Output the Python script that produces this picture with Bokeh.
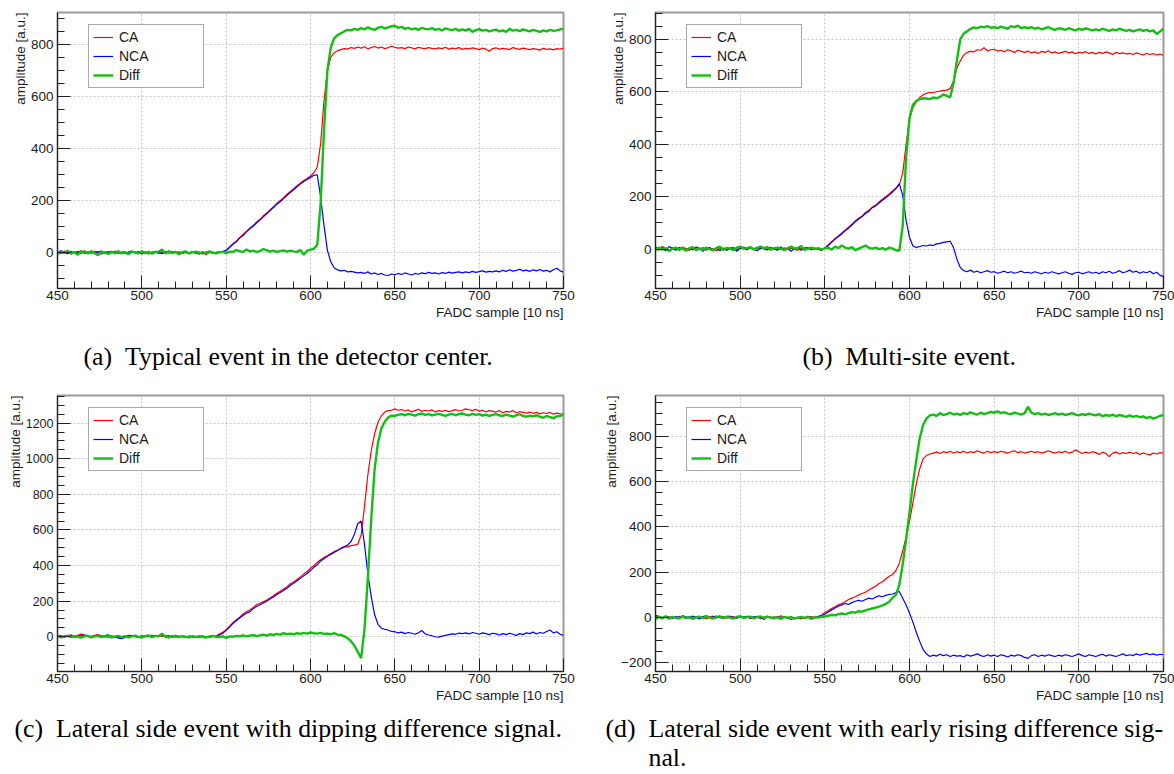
from bokeh.plotting import figure
from bokeh.layouts import column, row
from bokeh.models import SingleIntervalTicker, Range1d, Title, Label
from bokeh.embed import file_html
from bokeh.resources import INLINE

# FADC sample index (every second sample shown)
sample = list(range(450, 751, 2))

# ---------------- (a) typical event in the detector center ----------------
ca_a = [
    3, -4, 6, 2, -5, 4, 1, -3, 7, 0,
    -2, 5, 3, -6, 2, 4, -1, 6, -3, 2,
    5, -4, 1, 3, -2, 6, 0, -5, 3, 2,
    -3, 4, 1, -2, 5, 0, 3, -4, 2, -1,
    4, -2, -6, 3, -8, 1, 2, -3, 0, 2,
    10, 22, 35, 44, 58, 70, 82, 94, 105, 118,
    128, 142, 152, 165, 176, 190, 200, 212, 224, 236,
    246, 258, 268, 278, 286, 296, 308, 330, 419, 585,
    700, 752, 770, 778, 782, 786, 784, 790, 787, 792,
    788, 793, 785, 790, 794, 788, 792, 786, 790, 795,
    791, 788, 790, 786, 792, 789, 785, 791, 788, 786,
    790, 787, 785, 789, 786, 791, 784, 788, 786, 790,
    783, 787, 785, 789, 786, 782, 788, 784, 776, 786,
    789, 784, 787, 785, 782, 790, 786, 783, 788, 785,
    782, 786, 784, 780, 787, 783, 785, 781, 786, 784,
    788]
nca_a = [
    -2, 8, 1, -4, 5, -1, 3, 6, -3, 2,
    4, -3, 2, 6, -2, 1, 5, -4, 3, 0,
    -3, 2, 6, -1, 4, -5, 2, 3, -2, 5,
    1, -4, 3, 5, -2, 2, -3, 4, 0, -2,
    2, -1, 3, -5, 2, 4, -2, 1, 3, 5,
    8, 20, 32, 42, 56, 66, 80, 92, 102, 114,
    126, 138, 150, 162, 174, 186, 196, 208, 220, 232,
    242, 254, 264, 274, 282, 290, 298, 300, 215, 105,
    10, -35, -58, -66, -70, -68, -74, -72, -75, -78,
    -76, -80, -74, -82, -78, -84, -80, -86, -88, -82,
    -85, -80, -84, -78, -82, -86, -80, -83, -78, -81,
    -76, -80, -78, -82, -77, -80, -75, -79, -76, -74,
    -78, -74, -77, -72, -76, -73, -70, -75, -72, -74,
    -70, -74, -68, -72, -66, -71, -68, -64, -70, -67,
    -72, -66, -70, -65, -71, -68, -74, -66, -60, -70,
    -75]
diff_a = [
    -6, 4, -2, 8, -4, 2, -8, 5, 3, -3,
    6, -2, -10, 4, 1, -5, 3, -2, 6, -3,
    2, -6, 4, 1, -3, 5, -2, 3, -4, 2,
    4, 12, -3, 6, -2, 3, -6, 2, 5, -3,
    1, 4, -3, 2, -2, 5, 0, -3, 2, 3,
    -2, 4, 3, 10, 6, 2, 12, 5, 8, 3,
    6, 14, 10, 4, 8, 3, 6, 9, 4, 8,
    5, 3, 10, -8, 8, 12, 15, 30, 190, 470,
    700, 790, 825, 838, 845, 852, 858, 856, 862, 858,
    865, 860, 868, 862, 858, 866, 870, 864, 868, 872,
    874, 866, 870, 862, 866, 860, 864, 858, 866, 862,
    860, 865, 858, 862, 856, 864, 860, 857, 862, 855,
    860, 855, 862, 850, 857, 861, 855, 858, 852, 856,
    859, 852, 856, 850, 862, 855, 858, 853, 860, 856,
    852, 858, 854, 850, 856, 852, 858, 854, 856, 860,
    862]

# ---------------- (b) multi-site event ----------------
ca_b = [
    6, -4, 10, 2, -6, 5, 0, -3, 8, 2,
    -5, 4, 1, -2, 6, -4, 3, 0, -6, 4,
    2, -3, 5, 1, -2, 4, 8, 3, 6, 2,
    5, 2, 7, 0, -3, 4, 2, -2, 5, 1,
    3, -2, -4, 2, 4, 5, 2, 3, 0, -6,
    5, 16, 28, 40, 50, 62, 72, 84, 95, 108,
    118, 126, 140, 148, 160, 168, 180, 190, 200, 210,
    222, 232, 245, 290, 400, 495, 540, 560, 578, 588,
    594, 597, 596, 600, 602, 605, 606, 612, 640, 690,
    718, 740, 750, 754, 752, 760, 758, 768, 756, 760,
    762, 755, 758, 752, 760, 756, 750, 758, 754, 750,
    755, 748, 752, 746, 754, 750, 756, 748, 752, 746,
    750, 754, 748, 752, 745, 750, 748, 753, 746, 750,
    744, 750, 746, 752, 748, 742, 750, 745, 748, 744,
    746, 742, 748, 744, 740, 746, 742, 745, 740, 744,
    738]
nca_b = [
    8, -2, 4, -6, 10, 3, -4, 6, 0, -5,
    5, -3, 8, 2, -8, 4, 6, -2, 3, -6,
    4, -4, 2, 6, -8, 3, 5, -2, 7, 0,
    -6, 4, 2, -3, 6, 0, -4, 8, -2, 3,
    -8, 2, 5, -4, 3, 6, -2, 4, 0, -3,
    4, 14, 26, 38, 48, 58, 70, 80, 92, 104,
    115, 124, 136, 144, 158, 165, 176, 186, 196, 206,
    218, 232, 250, 205, 110, 45, 12, 6, 10, 14,
    12, 16, 14, 20, 22, 26, 28, 30, 6, -38,
    -70, -82, -86, -80, -88, -84, -90, -86, -82, -88,
    -86, -92, -88, -84, -90, -86, -92, -88, -84, -90,
    -88, -92, -86, -90, -94, -88, -92, -86, -90, -94,
    -90, -86, -92, -96, -90, -88, -94, -90, -86, -92,
    -88, -94, -86, -90, -84, -92, -88, -82, -90, -86,
    -80, -88, -84, -92, -86, -90, -84, -94, -88, -100,
    -104]
diff_b = [
    -4, 6, -2, 4, -8, 2, 6, -3, 5, -6,
    2, 8, -4, 3, -2, 6, 0, -5, 4, 10,
    -3, 5, 2, -4, 6, 10, 2, 4, 8, -2,
    5, 10, 3, 8, -2, 4, 6, 2, -4, 3,
    10, 2, 4, 12, -3, 2, 6, 0, 4, -2,
    3, 6, -2, 10, 4, 14, 6, 2, 8, -4,
    2, 8, 14, 5, 2, 6, 0, 4, -2, 6,
    2, -4, -6, 90, 350, 500, 550, 565, 572, 575,
    574, 572, 578, 575, 580, 590, 584, 578, 632, 720,
    800, 822, 830, 840, 845, 842, 848, 845, 850, 844,
    846, 842, 848, 844, 840, 850, 846, 852, 842, 846,
    842, 846, 840, 844, 838, 842, 846, 840, 836, 842,
    840, 836, 842, 838, 834, 840, 836, 842, 838, 834,
    838, 834, 840, 836, 832, 838, 834, 840, 836, 832,
    836, 830, 834, 838, 832, 836, 830, 834, 820, 830,
    840]

# ---------------- (c) lateral side event, dipping difference ----------------
ca_c = [
    5, 2, -3, 6, 10, 4, 8, 15, 10, 4,
    2, 8, 12, 5, -2, 6, 3, 0, -5, -8,
    2, 8, 5, 0, -3, 2, 4, 0, 6, 3,
    8, 2, 5, 0, 3, -2, 4, 1, -3, 2,
    -2, -4, 0, 3, -2, 2, 0, 4, 15, 25,
    40, 58, 80, 95, 110, 128, 140, 150, 165, 180,
    188, 196, 206, 218, 230, 244, 256, 268, 280, 298,
    308, 322, 336, 352, 366, 385, 400, 418, 432, 446,
    455, 468, 478, 485, 498, 506, 505, 512, 515, 520,
    570, 730, 910, 1045, 1140, 1205, 1240, 1262, 1270, 1272,
    1280, 1272, 1276, 1268, 1274, 1262, 1270, 1278, 1266, 1272,
    1268, 1274, 1262, 1270, 1266, 1272, 1264, 1270, 1276, 1268,
    1272, 1280, 1275, 1270, 1278, 1266, 1272, 1262, 1270, 1266,
    1262, 1270, 1258, 1266, 1262, 1270, 1258, 1264, 1260, 1256,
    1262, 1255, 1260, 1252, 1258, 1254, 1260, 1250, 1256, 1252,
    1250]
nca_c = [
    2, 6, 0, 4, 8, -2, 3, 6, 10, 2,
    -4, 5, 8, 2, 6, -2, 4, 0, -6, -10,
    -4, 4, 8, 2, -2, 5, 0, 3, 8, 2,
    5, 10, 2, 6, -2, 8, 0, 3, -2, 4,
    0, 2, -3, 4, 0, -2, 3, 0, 10, 20,
    36, 55, 75, 90, 105, 120, 132, 140, 158, 170,
    180, 190, 200, 212, 224, 236, 248, 260, 272, 288,
    300, 315, 328, 342, 355, 372, 390, 405, 425, 438,
    452, 462, 474, 484, 494, 505, 515, 535, 575, 635,
    650, 520, 353, 225, 125, 70, 48, 42, 38, 30,
    28, 22, 26, 18, 24, 20, 14, 22, 35, 16,
    10, 6, 0, -2, 4, 8, 12, 16, 14, 20,
    18, 22, 16, 24, 20, 14, 22, 18, 12, 20,
    16, 10, 18, 12, 20, 14, 8, 18, 12, 22,
    18, 26, 16, 24, 20, 30, 38, 22, 28, 14,
    8]
diff_c = [
    3, -4, 2, 6, -2, 4, 0, -5, 3, 6,
    -3, 2, 5, -2, 4, 10, -4, 2, 5, -2,
    4, -3, 2, 6, 0, -4, 3, 8, -2, 5,
    2, 18, 0, -4, 5, 2, -2, 4, 0, -3,
    4, -2, 3, 0, -4, 2, 5, 0, -2, 3,
    -6, 2, 0, 5, 3, 8, 2, 6, 10, 4,
    8, 12, 6, 14, 10, 16, 12, 20, 15, 18,
    14, 20, 16, 22, 18, 24, 20, 18, 22, 16,
    18, 14, 20, 12, 10, 4, -8, -25, -50, -85,
    -120, 40, 330, 660, 940, 1090, 1170, 1208, 1232, 1242,
    1240, 1246, 1250, 1244, 1252, 1248, 1242, 1250, 1254, 1246,
    1250, 1244, 1248, 1252, 1246, 1240, 1248, 1252, 1244, 1250,
    1254, 1248, 1244, 1252, 1246, 1250, 1242, 1248, 1240, 1246,
    1250, 1244, 1240, 1248, 1242, 1236, 1244, 1250, 1240, 1236,
    1242, 1238, 1244, 1236, 1230, 1240, 1234, 1228, 1238, 1240,
    1246]

# ---------------- (d) lateral side event, early rising difference ----------------
ca_d = [
    8, 2, -6, 4, 0, 6, -3, 5, 2, -4,
    3, 6, -2, 4, 0, -5, 3, 6, -2, 2,
    5, -3, 2, 4, -2, 6, 0, 3, -4, 2,
    4, -5, 2, 6, 0, 3, -2, 8, 2, -3,
    -8, -4, 0, -6, 2, -2, 4, 0, 3, 10,
    22, 30, 40, 48, 56, 62, 70, 80, 86, 92,
    100, 106, 112, 122, 130, 138, 150, 158, 170, 182,
    190, 208, 240, 295, 355, 425, 505, 590, 655, 700,
    715, 722, 726, 730, 724, 732, 728, 734, 726, 732,
    728, 734, 726, 732, 728, 736, 730, 726, 734, 728,
    732, 728, 734, 730, 726, 732, 736, 728, 732, 726,
    730, 734, 728, 732, 726, 730, 736, 730, 726, 732,
    728, 734, 726, 730, 740, 732, 724, 730, 726, 732,
    728, 720, 730, 724, 710, 726, 730, 722, 728, 724,
    730, 724, 728, 720, 726, 722, 718, 726, 722, 728,
    725]
nca_d = [
    10, 4, -2, 6, 2, -4, 5, 0, 8, 3,
    -3, 5, 2, -6, 4, 8, -2, 3, 6, 0,
    -4, 3, 6, 0, -3, 5, 2, 6, -2, 3,
    5, 0, -8, 4, 2, -3, 6, 0, 3, -2,
    2, -5, 0, 3, -2, 4, 0, -2, 5, 8,
    15, 25, 34, 42, 50, 56, 62, 58, 66, 72,
    76, 72, 80, 86, 82, 90, 96, 92, 98, 102,
    104, 110, 115, 85, 55, 20, -20, -65, -105, -140,
    -160, -172, -166, -170, -162, -168, -164, -172, -166, -170,
    -168, -174, -164, -170, -166, -160, -168, -172, -164, -170,
    -166, -172, -164, -168, -174, -166, -170, -164, -168, -176,
    -180, -168, -164, -172, -166, -170, -164, -168, -172, -166,
    -170, -164, -168, -172, -166, -160, -168, -172, -164, -168,
    -172, -166, -162, -170, -164, -168, -172, -166, -160, -168,
    -164, -168, -160, -166, -162, -158, -164, -160, -166, -162,
    -164]
diff_d = [
    -8, 4, -2, 6, -5, 2, 0, -4, 5, -2,
    3, -6, 2, 4, -3, 5, 0, -4, 2, 6,
    -2, 4, 0, -5, 3, 6, -2, 2, 4, -3,
    2, 5, -2, 4, 0, -3, 2, -6, 3, 0,
    2, -4, 0, 3, -2, 4, -6, 2, 0, 3,
    5, 8, 12, 10, 15, 18, 14, 20, 24, 22,
    28, 26, 32, 36, 40, 44, 48, 54, 60, 70,
    88, 100, 145, 235, 345, 465, 590, 695, 790, 850,
    878, 892, 896, 890, 902, 894, 898, 904, 896, 900,
    894, 902, 898, 906, 900, 896, 904, 898, 902, 908,
    904, 910, 902, 906, 900, 898, 904, 900, 896, 902,
    930, 904, 898, 902, 896, 900, 894, 898, 902, 896,
    900, 894, 898, 902, 896, 892, 898, 894, 900, 896,
    892, 898, 888, 894, 890, 896, 888, 894, 890, 886,
    892, 886, 890, 884, 888, 880, 886, 878, 884, 890,
    894]

series_names = ["CA", "NCA", "Diff"]
series_colors = ["#ff0000", "#0000ff", "#14bf14"]
series_widths = [1.2, 1.2, 2.4]

x_label = "FADC sample [10 ns]"
y_label = "amplitude [a.u.]"

captions_a = ["(a)\u2002Typical event in the detector center."]
captions_b = ["(b)\u2002Multi-site event."]
captions_c = ["(c)\u2002Lateral side event with dipping difference signal."]
captions_d = ["(d)\u2002Lateral side event with early rising difference sig-", "nal."]

SANS = "Liberation Sans"
SERIF = "Liberation Serif"
CAP_SIZE = "25.8px"


def set_standoff(t, so):
    try:
        t.standoff = so
    except Exception:
        pass


def panel(data, yr, fw, borders, ytick_size="13.5px"):
    left, right, top, bottom = borders
    p = figure(frame_width=fw, frame_height=276,
               x_range=Range1d(450, 750), y_range=Range1d(*yr),
               output_backend="svg", toolbar_location=None,
               min_border_left=left, min_border_right=right,
               min_border_top=top, min_border_bottom=bottom,
               background_fill_color="white", border_fill_color="white")
    for vals, name, col, w in zip(data, series_names, series_colors, series_widths):
        p.line(sample, vals, line_color=col, line_width=w, legend_label=name)

    p.outline_line_color = "#9a9a9a"
    p.outline_line_width = 2

    p.xaxis.ticker = SingleIntervalTicker(interval=50, num_minor_ticks=5)
    p.yaxis.ticker = SingleIntervalTicker(interval=200, num_minor_ticks=4)
    for ax in (p.xaxis[0], p.yaxis[0]):
        ax.major_tick_in = 13
        ax.major_tick_out = 0
        ax.minor_tick_in = 7
        ax.minor_tick_out = 0
        ax.axis_line_color = "#222222"
        ax.major_tick_line_color = "#222222"
        ax.minor_tick_line_color = "#222222"
        ax.major_label_text_font = SANS
        ax.major_label_text_color = "#1a1a1a"
    p.xaxis.major_label_text_font_size = "13.5px"
    p.yaxis.major_label_text_font_size = ytick_size
    p.xaxis.major_label_standoff = 2
    p.yaxis.major_label_standoff = 4

    # axis titles, right/top aligned like ROOT
    xt = Title(text=x_label, align="right", offset=0, text_font=SANS,
               text_font_size="13.5px", text_font_style="normal", text_color="#1a1a1a")
    set_standoff(xt, 0)
    p.add_layout(xt, "below")
    yt = Title(text=y_label, align="right", offset=0, text_font=SANS,
               text_font_size="13.5px", text_font_style="normal", text_color="#1a1a1a")
    set_standoff(yt, 0)
    p.add_layout(yt, "left")

    for g in (p.xgrid[0], p.ygrid[0]):
        g.grid_line_color = "#c4c4c4"
        g.grid_line_dash = "2 2"
        g.grid_line_width = 1

    lg = p.legend[0]
    lg.location = (31, 200)
    lg.margin = 0
    lg.padding = 4
    lg.spacing = 3
    lg.glyph_width = 20
    lg.glyph_height = 16
    lg.label_height = 16
    lg.label_width = 80
    lg.label_standoff = 6
    lg.label_text_font = SANS
    lg.label_text_font_size = "14px"
    lg.label_text_color = "#1a1a1a"
    lg.border_line_color = "#555555"
    lg.border_line_width = 1
    lg.background_fill_color = "white"
    lg.background_fill_alpha = 1.0
    return p


def caption(width, height, lines):
    # lines: (text, x from left, baseline y from bottom) in pixels
    c = figure(width=width, height=height, x_range=Range1d(0, 1), y_range=Range1d(0, 1),
               x_axis_location=None, y_axis_location=None, toolbar_location=None,
               output_backend="svg", min_border=0,
               background_fill_color="white", border_fill_color="white")
    c.outline_line_color = None
    c.grid.visible = False
    for text, x, y in lines:
        c.add_layout(Label(text=text, x=x, y=y, x_units="screen", y_units="screen",
                           text_font=SERIF, text_font_size=CAP_SIZE, text_color="black",
                           text_align="left", text_baseline="alphabetic"))
    return c


pa = panel([ca_a, nca_a, diff_a], (-138, 925), 506, (57, 35, 12, 40))
pb = panel([ca_b, nca_b, diff_b], (-150, 902), 508, (57, 11, 10, 42))
pc = panel([ca_c, nca_c, diff_c], (-195, 1355), 506, (57, 35, 20, 40), ytick_size="12.5px")
pd = panel([ca_d, nca_d, diff_d], (-238, 980), 508, (57, 11, 19, 41))

cap_a = caption(598, 47, [(captions_a[0], 83, 19)])
cap_b = caption(576, 47, [(captions_b[0], 204, 19)])
cap_c = caption(598, 63, [(captions_c[0], 14, 46)])
cap_d = caption(576, 63, [(captions_d[0], 7, 46), (captions_d[1], 50, 17)])

layout = column(row(pa, pb), row(cap_a, cap_b), row(pc, pd), row(cap_c, cap_d))

with open("out.html", "w") as f:
    f.write(file_html(layout, INLINE, title="FADC pulses"))
